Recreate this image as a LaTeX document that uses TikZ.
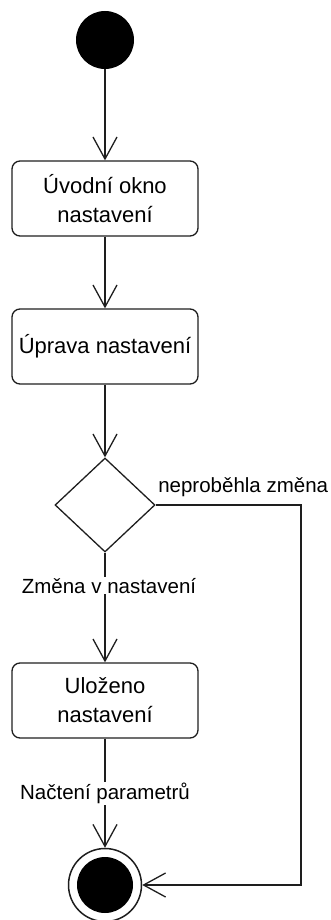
\documentclass[tikz,border=0pt]{standalone}
\usepackage{fontspec}
\setmainfont{Liberation Sans}
\usetikzlibrary{arrows.meta,shapes.geometric}
\definecolor{inkgray}{RGB}{30, 30, 30}

\tikzset{
  activity/.style={draw=inkgray, line width=1.3pt, rounded corners=8pt, minimum width=186pt, minimum height=75pt, inner sep=0pt, align=center, font=\fontsize{22}{29}\selectfont},
  decision/.style={diamond, draw=inkgray, line width=1.3pt, minimum width=100pt, minimum height=94pt, inner sep=0pt},
  flow/.style={draw=inkgray, line width=1.3pt, -{Straight Barb[length=22pt, width=24pt]}},
  guard/.style={fill=white, inner sep=1pt, font=\fontsize{20.5}{24}\selectfont},
}

\begin{document}
\begin{tikzpicture}[x=1pt, y=-1pt]
            \useasboundingbox (0, 0) rectangle (330, 920);
            \node[circle, fill=black, minimum size=58pt, inner sep=0pt] (start) at (105,  40) {};
            \node[activity] (uvod)    at (105, 198.5) {Úvodní okno\\nastavení};
            \node[activity] (uprava)  at (105, 346.5) {Úprava nastavení};
            \node[decision] (volba)   at (105, 505) {};
            \node[activity] (ulozeno) at (105, 700.5) {Uloženo\\nastavení};
            \node[circle, draw=inkgray, line width=1.5pt, minimum size=73pt, inner sep=0pt] (konec) at (105, 885) {};
            \node[circle, fill=black, minimum size=56pt, inner sep=0pt] (konecin) at (konec) {};
            \coordinate (ohyb) at (301, 885);

            \draw[flow] (start)   -- (uvod);
            \draw[flow] (uvod)    -- (uprava);
            \draw[flow] (uprava)  -- (volba);
            \draw[flow] (volba)   -- node[guard, pos=0.3, xshift=4pt] {Změna v nastavení} (ulozeno);
            \draw[flow] (ulozeno) -- node[guard] {Načtení parametrů} (konec);
            \draw[flow] (volba.east) -- node[pos=0, anchor=west, yshift=18pt, inner sep=2pt, font=\fontsize{20.5}{24}\selectfont] {neproběhla změna}
                 (volba.east -| ohyb) -- (ohyb) -- (konec.east);
        \end{tikzpicture}
\end{document}
